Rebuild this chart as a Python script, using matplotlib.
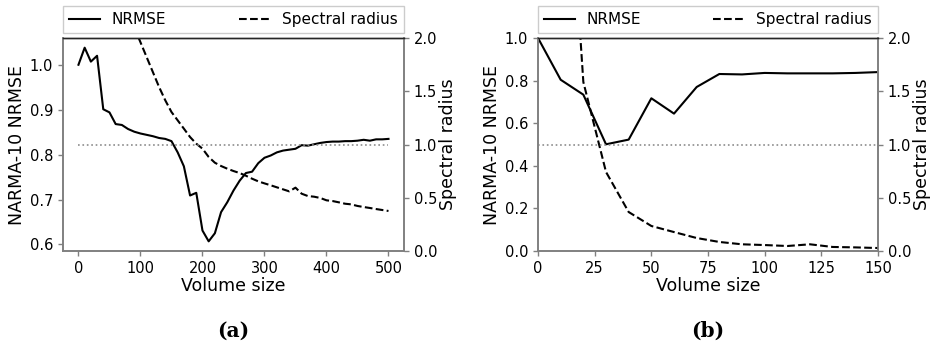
import matplotlib
matplotlib.use("Agg")
import matplotlib.pyplot as plt
import numpy as np

# ---- Panel (a) data ----
a_x = list(range(0, 501, 10))
a_nrmse = [1.000, 1.038, 1.007, 1.020, 0.901, 0.894, 0.868, 0.866, 0.857, 0.851,
           0.847, 0.844, 0.841, 0.837, 0.835, 0.830, 0.805, 0.774, 0.709, 0.715,
           0.631, 0.607, 0.625, 0.672, 0.694, 0.720, 0.742, 0.759, 0.762, 0.781,
           0.793, 0.798, 0.805, 0.809, 0.811, 0.813, 0.821, 0.820, 0.823, 0.826,
           0.828, 0.829, 0.829, 0.830, 0.830, 0.831, 0.833, 0.831, 0.834, 0.834,
           0.835]
a_sr_x = list(range(90, 501, 10))
a_sr = [2.10, 1.96, 1.82, 1.68, 1.54, 1.415, 1.305, 1.227, 1.149, 1.070, 1.008,
        0.961, 0.883, 0.829, 0.798, 0.773, 0.751, 0.732, 0.707, 0.679, 0.654,
        0.635, 0.617, 0.598, 0.579, 0.560, 0.595, 0.538, 0.516, 0.510, 0.498,
        0.476, 0.469, 0.457, 0.444, 0.438, 0.423, 0.413, 0.404, 0.394, 0.385,
        0.376]

# ---- Panel (b) data ----
b_x = list(range(0, 151, 10))
b_nrmse = [1.000, 0.804, 0.734, 0.501, 0.523, 0.717, 0.645, 0.770, 0.831, 0.829,
           0.836, 0.834, 0.834, 0.834, 0.836, 0.840]
b_sr_x = list(range(10, 151, 10))
b_sr = [4.8, 1.587, 0.742, 0.366, 0.235, 0.178, 0.122, 0.085, 0.063, 0.056,
        0.047, 0.063, 0.038, 0.034, 0.028]

ref_level = 1.0

fig = plt.figure(figsize=(9.3, 3.48), dpi=100)
axA = fig.add_axes([0.0677, 0.2787, 0.3667, 0.6121])
axB = fig.add_axes([0.5785, 0.2787, 0.3656, 0.6121])

spine_gray = '0.5'


def style(ax, ax2):
    for a in (ax, ax2):
        for s in ('left', 'right', 'bottom'):
            a.spines[s].set_color(spine_gray)
            a.spines[s].set_linewidth(1.2)
        a.spines['top'].set_color('0.15')
        a.spines['top'].set_linewidth(1.0)
        a.tick_params(colors=spine_gray, labelcolor='black', labelsize=10.5,
                      length=3.5, width=1.0)


def panel(ax, x, nrmse, srx, sr, xmax, ylim_left, xlim):
    ax2 = ax.twinx()
    l1, = ax.plot(x, nrmse, color='black', lw=1.5, label='NRMSE')
    l2, = ax2.plot(srx, sr, color='black', lw=1.5, ls='--', label='Spectral radius')
    ax2.plot([0, xmax], [ref_level, ref_level], color='0.55', lw=1.2, ls=':')
    ax2.set_ylim(0, 2)
    ax2.set_yticks([0.0, 0.5, 1.0, 1.5, 2.0])
    if ylim_left is not None:
        ax.set_ylim(*ylim_left)
    if xlim is not None:
        ax.set_xlim(*xlim)
    ax.set_xlabel('Volume size', fontsize=12.5, labelpad=1)
    ax.set_ylabel('NARMA-10 NRMSE', fontsize=12.5, labelpad=3)
    ax2.set_ylabel('Spectral radius', fontsize=12.5, labelpad=1.5)
    style(ax, ax2)
    leg = ax.legend([l1, l2], ['NRMSE', 'Spectral radius'],
                    bbox_to_anchor=(0, 1.0235, 1, 0.12), loc='lower left',
                    mode='expand', ncol=2, borderaxespad=0, fontsize=11,
                    fancybox=False, edgecolor='0.8', framealpha=1.0)
    leg.get_frame().set_linewidth(1.0)
    return ax2


panel(axA, a_x, a_nrmse, a_sr_x, a_sr, 500, None, None)
axA.set_xticks([0, 100, 200, 300, 400, 500])
axA.set_yticks([0.6, 0.7, 0.8, 0.9, 1.0])

panel(axB, b_x, b_nrmse, b_sr_x, b_sr, 150, (0, 1.0), (0, 150))
axB.set_xticks([0, 25, 50, 75, 100, 125, 150])
axB.set_yticks([0.0, 0.2, 0.4, 0.6, 0.8, 1.0])

fig.text(0.2505, 0.05, '(a)', ha='center', va='center',
         fontsize=14.5, family='DejaVu Serif', weight='bold')
fig.text(0.7613, 0.05, '(b)', ha='center', va='center',
         fontsize=14.5, family='DejaVu Serif', weight='bold')

fig.savefig('out.png', dpi=100)
